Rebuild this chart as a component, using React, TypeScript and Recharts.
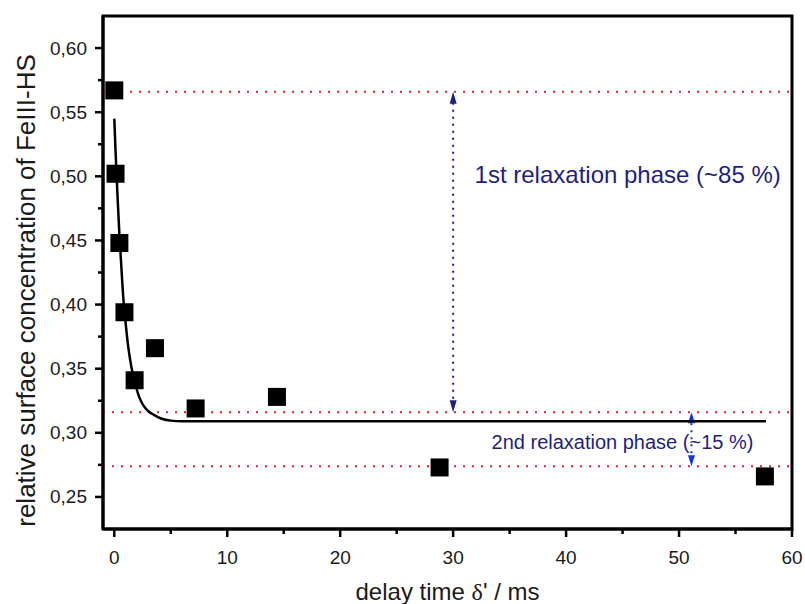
import React from 'react';
import {
  ComposedChart,
  Scatter,
  Line,
  XAxis,
  YAxis,
  ReferenceLine,
  ReferenceArea,
  ReferenceDot,
  Label
} from 'recharts';

// measured points (delay in ms, relative FeIII-HS surface concentration)
const delays = [0, 0.11, 0.45, 0.9, 1.8, 3.6, 7.2, 14.4, 28.8, 57.6];
const concentration = [0.567, 0.502, 0.448, 0.394, 0.341, 0.366, 0.319, 0.328, 0.273, 0.266];

// fit curve
const fitDelays = [0, 0.1, 0.2, 0.3, 0.45, 0.6, 0.8, 1.0, 1.25, 1.5, 1.8, 2.2, 2.6, 3.0, 3.5, 4.2, 5.0, 6.0, 8.0, 20, 40, 57.7];
const fitConcentration = [0.545, 0.522, 0.501, 0.482, 0.455, 0.433, 0.405, 0.386, 0.366, 0.352, 0.340, 0.328, 0.321, 0.317, 0.314, 0.311, 0.3095, 0.309, 0.309, 0.309, 0.309, 0.309];

// dotted guide levels
const startLevel = 0.566;
const midLevel = 0.316;
const endLevel = 0.274;

const arrow1X = 30;
const arrow2X = 51.1;

const xTicks = [0, 5, 10, 15, 20, 25, 30, 35, 40, 45, 50, 55, 60];
const yTicks = [0.25, 0.275, 0.3, 0.325, 0.35, 0.375, 0.4, 0.425, 0.45, 0.475, 0.5, 0.525, 0.55, 0.575, 0.6];

const points = delays.map((d, i) => ({ x: d, y: concentration[i] }));
const fit = fitDelays.map((d, i) => ({ x: d, y: fitConcentration[i] }));

const TICK_SIZE = 8;
const Y_GAP = 8;
const X_GAP = 13;
const textColor = '#1a1a1a';
const navy = '#1f1f80';

const YTick = ({ x, y, payload }: any) => {
  const v = payload.value;
  const major = Math.round(v * 1000) % 50 === 0;
  const axisX = x + TICK_SIZE + Y_GAP;
  return (
    <g>
      <line x1={axisX} x2={axisX - (major ? 8 : 5)} y1={y} y2={y} stroke="#000" strokeWidth={2.5} />
      {major && (
        <text x={x} y={y} textAnchor="end" dominantBaseline="central" fontSize={19} fill={textColor}>
          {v.toFixed(2).replace('.', ',')}
        </text>
      )}
    </g>
  );
};

const XTick = ({ x, y, payload }: any) => {
  const v = payload.value;
  const major = v % 10 === 0;
  const axisY = y - TICK_SIZE - X_GAP;
  return (
    <g>
      <line x1={x} x2={x} y1={axisY} y2={axisY + (major ? 8 : 5)} stroke="#000" strokeWidth={2.5} />
      {major && (
        <text x={x} y={y + 13.5} textAnchor="middle" fontSize={19} fill={textColor}>
          {v}
        </text>
      )}
    </g>
  );
};

const YTitle = (props: any) => {
  const vb = props.viewBox;
  const cy = vb ? vb.y + vb.height / 2 + 18 : 291;
  const cx = 35;
  return (
    <text x={cx} y={cy} transform={`rotate(-90 ${cx} ${cy})`} textAnchor="middle" fontSize={26} fill={textColor}>
      relative surface concentration of FeIII-HS
    </text>
  );
};

const XTitle = (props: any) => {
  const vb = props.viewBox;
  const cx = vb ? vb.x + vb.width / 2 : 447;
  const by = vb ? vb.y + vb.height - 4 : 600;
  return (
    <text x={cx} y={by} textAnchor="middle" fontSize={24} fill={textColor}>
      delay time <tspan fontFamily="'Liberation Serif', 'Times New Roman', serif">δ</tspan>' / ms
    </text>
  );
};

const Square = ({ cx, cy }: any) => <rect x={cx - 9} y={cy - 9} width={18} height={18} fill="#000" />;

const makeArrow = (color: string, dash: string, hl: number) => (props: any) => {
  const { x1, y1, y2 } = props;
  const top = Math.min(y1, y2);
  const bottom = Math.max(y1, y2);
  const hw = 3.5;
  return (
    <g>
      <line x1={x1} x2={x1} y1={top + 4} y2={bottom - 4} stroke={color} strokeWidth={2} strokeDasharray={dash} />
      <polygon points={`${x1},${top} ${x1 - hw},${top + hl} ${x1 + hw},${top + hl}`} fill={color} />
      <polygon points={`${x1},${bottom} ${x1 - hw},${bottom - hl} ${x1 + hw},${bottom - hl}`} fill={color} />
    </g>
  );
};

const makeNote = (text: string, size: number) => (props: any) => (
  <text x={props.cx} y={props.cy} fontSize={size} fill={navy}>
    {text}
  </text>
);

const App = () => {
  return (
    <div style={{ position: 'absolute', left: 0, top: 0, background: '#fff', fontFamily: "'Liberation Sans', Arial, sans-serif" }}>
      <ComposedChart width={805} height={604} margin={{ top: 16, right: 13, left: 0, bottom: 0 }}>
        <XAxis
          dataKey="x"
          type="number"
          domain={[-1, 60]}
          ticks={xTicks}
          interval={0}
          height={75}
          tickSize={TICK_SIZE}
          tickMargin={X_GAP}
          tickLine={false}
          tick={<XTick />}
          axisLine={{ stroke: '#000', strokeWidth: 3 }}
          allowDataOverflow
        >
          <Label content={<XTitle />} />
        </XAxis>
        <YAxis
          dataKey="y"
          type="number"
          domain={[0.225, 0.625]}
          ticks={yTicks}
          interval={0}
          width={103}
          tickSize={TICK_SIZE}
          tickMargin={Y_GAP}
          tickLine={false}
          tick={<YTick />}
          axisLine={{ stroke: '#000', strokeWidth: 3 }}
          allowDataOverflow
        >
          <Label content={<YTitle />} />
        </YAxis>

        <ReferenceArea x1={-1} x2={60} y1={0.225} y2={0.625} fill="none" fillOpacity={0} stroke="#000" strokeWidth={3} ifOverflow="visible" />

        <ReferenceLine y={startLevel} stroke="#e3202e" strokeWidth={2} strokeDasharray="2 7" />
        <ReferenceLine y={midLevel} stroke="#e3202e" strokeWidth={2} strokeDasharray="2 7" />
        <ReferenceLine y={endLevel} stroke="#e3202e" strokeWidth={2} strokeDasharray="2 7" />

        <ReferenceLine
          segment={[{ x: arrow1X, y: startLevel }, { x: arrow1X, y: midLevel }]}
          shape={makeArrow(navy, '2 5', 12)}
        />
        <ReferenceLine
          segment={[{ x: arrow2X, y: midLevel }, { x: arrow2X, y: endLevel }]}
          shape={makeArrow('#1133ee', '2 5', 11)}
        />

        <ReferenceDot x={31.9} y={0.4945} r={1} shape={makeNote('1st relaxation phase (~85 %)', 24)} />
        <ReferenceDot x={33.4} y={0.2875} r={1} shape={makeNote('2nd relaxation phase (~15 %)', 20)} />

        <Line
          data={fit}
          dataKey="y"
          type="monotone"
          stroke="#000"
          strokeWidth={2.5}
          dot={false}
          activeDot={false}
          isAnimationActive={false}
        />
        <Scatter data={points} dataKey="y" shape={<Square />} isAnimationActive={false} />
      </ComposedChart>
    </div>
  );
};

export default App;
